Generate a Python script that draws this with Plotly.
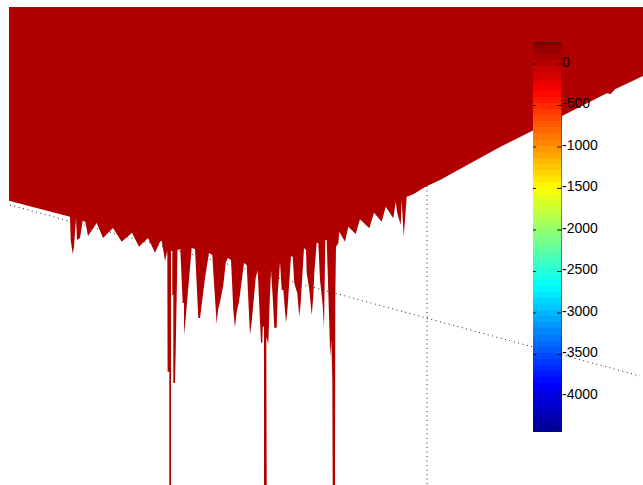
import numpy as np
import plotly.graph_objects as go

W, H = 643, 485

# Lower outline of the surface (screen-projected position)
edge_points = [
    (9, 200.7), (70, 216.7), (70.7, 240), (72.7, 254), (74, 246.7), (76, 218), (77, 240), (80, 238), (82.7, 220.7),
    (85.3, 221.7), (88, 236), (96.7, 223), (103, 238), (113, 228), (121.7, 241.7), (132, 232.7), (139, 246.7),
    (148, 238), (155, 252.7), (160, 241.7), (161.7, 240.7), (165, 261), (167.3, 251), (167.6, 371.7), (169.3, 371.7),
    (169.3, 485), (171, 485), (171, 251), (172.3, 251), (172.3, 295), (173.3, 295), (173.3, 383), (175, 383),
    (175.7, 351), (177, 295), (177.5, 250), (180.3, 249), (181.7, 278), (182.7, 303), (184, 303), (184, 335),
    (185.7, 318), (186.7, 305), (188.3, 288), (191.7, 248), (195, 249), (196, 268), (197.3, 295), (198.3, 318),
    (200, 318), (201.7, 302), (205, 278), (209, 253), (212.3, 255), (213.3, 272), (215, 295), (216.7, 324),
    (218, 310), (220, 302), (223.3, 285), (225.7, 263), (227.7, 258), (231, 260), (232.3, 288), (233.3, 310),
    (235, 327.7), (236.7, 311.7), (239, 301.7), (241, 285), (244, 263), (246.7, 265), (247.7, 288), (249, 311.7),
    (250, 335), (251.7, 321.7), (253.3, 305), (255.7, 278), (257.7, 270), (258.3, 288), (260, 321.7), (261, 342.7),
    (262.3, 342.7), (262.7, 326.7), (264, 326.7), (264, 485), (266.7, 485), (266.3, 336.7), (268.3, 344),
    (269.3, 311.7), (270, 288), (271, 270), (272.7, 296.7), (274.3, 327.7), (276.7, 327.7), (277.7, 295),
    (280, 261.7), (281.7, 290), (283.3, 290), (285, 312.7), (286, 322.7), (287.3, 311.7), (289, 280), (291, 256),
    (292.7, 256.7), (294.3, 283.3), (297.3, 293.3), (298.3, 303.3), (299.3, 316.7), (300.7, 303), (302.3, 275),
    (304, 248), (306, 250), (306.7, 273), (309.3, 290), (311.7, 315), (313.3, 296.7), (314.3, 273), (316.7, 242.7),
    (318.3, 243), (320, 280), (322.7, 305), (324, 328), (324.3, 280), (325.3, 240), (326.7, 240), (328.3, 296.7),
    (329.3, 320), (330.3, 356.7), (331.3, 340), (332.3, 380), (332.7, 485), (335, 485), (335.3, 296.7), (336, 246.7),
    (338.3, 243.3), (339.3, 231.7), (345, 241.7), (348.3, 226.7), (355.7, 234), (360, 219.3), (369.3, 228.3),
    (374, 212.7), (381.7, 221.7), (385.7, 206.7), (393.3, 218.3), (395.7, 201.7), (397.3, 213.3), (400.7, 225),
    (401.7, 200), (402.7, 220), (403.7, 236.7), (405, 220), (406.7, 196.7), (413.3, 194.3), (426, 186.5), (440, 180),
    (500, 147), (562, 116), (606.7, 93.3), (610.7, 94), (615, 89.3), (643, 76),
]
edge_x = [p[0] for p in edge_points]
edge_y = [p[1] for p in edge_points]
top_y = 7

# Dotted box edges of the 3-D axes
floor_x = [10, 640]
floor_y = [205, 376]
post_x = [427, 427]
post_y = [186, 485]

# Colour bar
cbar_min, cbar_max = -4434, 265
cbar_ticks = [0, -500, -1000, -1500, -2000, -2500, -3000, -3500, -4000]
cbar_labels = ["0", "-500", "-1000", "-1500", "-2000", "-2500", "-3000", "-3500", "-4000"]
jet = [[0, "#00008f"], [0.125, "#0000ff"], [0.375, "#00ffff"], [0.625, "#ffff00"], [0.875, "#ff0000"], [1, "#800000"]]
levels = np.linspace(cbar_min, cbar_max, 65)
level_mid = (levels[:-1] + levels[1:]) / 2

fig = go.Figure()
dots = dict(color="#222222", width=1, dash="1px,3.5px")
fig.add_trace(go.Scatter(x=floor_x, y=floor_y, mode="lines", line=dots, hoverinfo="skip"))
fig.add_trace(go.Scatter(x=post_x, y=post_y, mode="lines", line=dots, hoverinfo="skip"))
fig.add_trace(go.Scatter(
    x=[9] + edge_x + [643], y=[top_y] + edge_y + [top_y],
    mode="lines", fill="toself", fillcolor="#b00000", line=dict(width=0), hoverinfo="skip"))
fig.add_trace(go.Heatmap(
    x=[0, 1], y=levels, z=[[v] for v in level_mid], xaxis="x2", yaxis="y2",
    colorscale=jet, zmin=cbar_min, zmax=cbar_max, showscale=False, hoverinfo="y"))
# Colour-bar frame: dark on top and right, tick stubs at the bottom corners
fig.add_trace(go.Scatter(
    x=[0, 1, 1, None, 0, 0.2, None, 0.8, 1],
    y=[cbar_max, cbar_max, cbar_min, None, cbar_min, cbar_min, None, cbar_min, cbar_min],
    mode="lines", line=dict(color="#222222", width=1), xaxis="x2", yaxis="y2", cliponaxis=False, hoverinfo="skip"))
# Tick stubs on both sides of the bar, short on the left and longer on the right
stub_x, stub_y = [], []
for t in cbar_ticks:
    stub_x += [0, 0.1, None, 0.83, 1, None]
    stub_y += [t, t, None, t, t, None]
fig.add_trace(go.Scatter(x=stub_x, y=stub_y, mode="lines", line=dict(color="#111111", width=1),
                         xaxis="x2", yaxis="y2", hoverinfo="skip"))

fig.update_layout(
    width=W, height=H, margin=dict(l=0, r=0, t=0, b=0), showlegend=False,
    paper_bgcolor="white", plot_bgcolor="white",
    font=dict(family="Liberation Sans", size=14, color="#000000"),
    xaxis=dict(domain=[0, 1], range=[0, W], visible=False, fixedrange=True),
    yaxis=dict(domain=[0, 1], range=[H, 0], visible=False, fixedrange=True),
    xaxis2=dict(domain=[533 / W, 562 / W], range=[0, 1], anchor="y2", showticklabels=False, ticks="",
                showgrid=False, showline=False, zeroline=False),
    yaxis2=dict(domain=[1 - 432 / H, 1 - 42 / H], range=[cbar_min, cbar_max], anchor="x2", side="right",
                tickvals=cbar_ticks, ticktext=cbar_labels, ticks="",
                ticklabelshift=-2, ticklabelstandoff=-1, showgrid=False, zeroline=False, showline=False,
                tickfont=dict(family="Liberation Sans", size=14, color="#000000")),
)
fig.write_html("out.html", post_script="document.body.style.margin='0';", config={"displayModeBar": False})
